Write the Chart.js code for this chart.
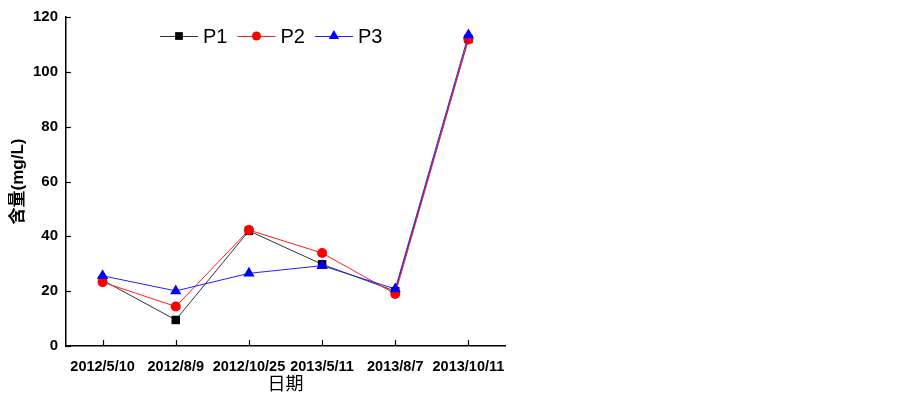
<!DOCTYPE html>
<html lang="zh">
<head>
<meta charset="UTF-8">
<title>含量变化</title>
<script src="https://cdn.jsdelivr.net/npm/chart.js"></script>
<style>
    body { margin: 0; background: #fff; }
    .chart-box { width: 903px; height: 396px; }
</style>
</head>
<body>
<div class="chart-box"><canvas id="lineChart"></canvas></div>
<script>
    // sampling dates and measured values (mg/L)
    const dates = ['2012/5/10', '2012/8/9', '2012/10/25', '2013/5/11', '2013/8/7', '2013/10/11'];
    const p1 = [24, 9.5, 42, 29.8, 20, 112];
    const p2 = [23.3, 14.4, 42.3, 33.9, 19, 111.8];
    const p3 = [25.6, 20.1, 26.5, 29.3, 20.8, 113.4];
    const yTicks = [0, 20, 40, 60, 80, 100, 120];

    const FONT = "'Liberation Sans', Arial, 'Noto Sans CJK SC', sans-serif";

    function marker(ctx, style, r, x, y, color) {
        ctx.save();
        ctx.fillStyle = color;
        ctx.beginPath();
        if (style === 'rect') {
            const s = r * Math.SQRT1_2;
            ctx.rect(x - s, y - s, s * 2, s * 2);
        } else if (style === 'triangle') {
            ctx.moveTo(x, y - r);
            ctx.lineTo(x + r * 0.866, y + r * 0.5);
            ctx.lineTo(x - r * 0.866, y + r * 0.5);
            ctx.closePath();
        } else {
            ctx.arc(x, y, r, 0, Math.PI * 2);
        }
        ctx.fill();
        ctx.restore();
    }

    // ticks drawn inward, like the original plot
    const innerTicks = {
        id: 'innerTicks',
        afterDraw(chart) {
            const ctx = chart.ctx;
            const xs = chart.scales.x, ys = chart.scales.y;
            const area = chart.chartArea;
            ctx.save();
            ctx.strokeStyle = '#000';
            ctx.lineWidth = 1.2;
            xs.ticks.forEach((t, i) => {
                const px = Math.round(xs.getPixelForTick(i)) + 0.5;
                ctx.beginPath();
                ctx.moveTo(px, area.bottom);
                ctx.lineTo(px, area.bottom - 6);
                ctx.stroke();
            });
            yTicks.forEach(v => {
                const py = Math.round(ys.getPixelForValue(v)) + 0.5;
                ctx.beginPath();
                ctx.moveTo(area.left, py);
                ctx.lineTo(area.left + 5, py);
                ctx.stroke();
            });
            ctx.restore();
        }
    };

    // legend: short line with marker, then the series name
    const lineLegend = {
        id: 'lineLegend',
        afterDraw(chart) {
            const ctx = chart.ctx;
            let x = 160;
            const y = 36;
            ctx.save();
            ctx.font = '20px ' + FONT;
            ctx.textBaseline = 'middle';
            chart.data.datasets.forEach(ds => {
                ctx.strokeStyle = ds.borderColor;
                ctx.lineWidth = 1;
                ctx.beginPath();
                ctx.moveTo(x, y + 0.5);
                ctx.lineTo(x + 38, y + 0.5);
                ctx.stroke();
                marker(ctx, ds.pointStyle, ds.pointRadius - 0.5, x + 19, y, ds.pointBackgroundColor);
                ctx.fillStyle = '#000';
                ctx.fillText(ds.label, x + 43, y + 1);
                x += 43 + ctx.measureText(ds.label).width + 10;
            });
            ctx.restore();
        }
    };

    new Chart(document.getElementById('lineChart'), {
        type: 'line',
        data: {
            labels: dates,
            datasets: [
                { label: 'P1', data: p1, borderColor: '#333333', borderWidth: 1,
                  pointStyle: 'rect', pointRadius: 6, pointBackgroundColor: '#000', pointBorderColor: '#000',
                  pointBorderWidth: 0, order: 2 },
                { label: 'P2', data: p2, borderColor: '#ff2020', borderWidth: 1,
                  pointStyle: 'circle', pointRadius: 5, pointBackgroundColor: '#ff0000', pointBorderColor: '#ff0000',
                  pointBorderWidth: 0, order: 1 },
                { label: 'P3', data: p3, borderColor: '#2020ff', borderWidth: 1,
                  pointStyle: 'triangle', pointRadius: 6.5, pointBackgroundColor: '#0000ff', pointBorderColor: '#0000ff',
                  pointBorderWidth: 0, order: 0 }
            ]
        },
        options: {
            responsive: true,
            maintainAspectRatio: false,
            animation: false,
            layout: { padding: { left: 0, top: 10, right: 398, bottom: 0 } },
            plugins: {
                legend: { display: false },
                tooltip: { enabled: false }
            },
            scales: {
                x: {
                    type: 'category',
                    offset: true,
                    grid: { display: false, drawTicks: false },
                    border: { display: true, color: '#000', width: 1.5 },
                    ticks: {
                        padding: 12,
                        color: '#000',
                        maxRotation: 0,
                        autoSkip: false,
                        font: { family: FONT, size: 14.5, weight: 'bold' }
                    },
                    title: {
                        display: true,
                        text: '日期',
                        color: '#000',
                        padding: { top: 1, bottom: 0 },
                        font: { family: FONT, size: 18 }
                    },
                    afterFit(scale) { scale.height = 50; }
                },
                y: {
                    min: 0,
                    max: 120,
                    grid: { display: false, drawTicks: false },
                    border: { display: true, color: '#000', width: 1.5 },
                    afterBuildTicks(scale) { scale.ticks = yTicks.map(v => ({ value: v })); },
                    ticks: {
                        padding: 8,
                        color: '#000',
                        font: { family: FONT, size: 15, weight: 'bold' }
                    },
                    title: {
                        display: true,
                        text: '含量(mg/L)',
                        color: '#000',
                        padding: { top: 8, bottom: 0 },
                        font: { family: FONT, size: 17, weight: 'bold' }
                    },
                    afterFit(scale) { scale.width = 66; }
                }
            }
        },
        plugins: [innerTicks, lineLegend]
    });
</script>
</body>
</html>
